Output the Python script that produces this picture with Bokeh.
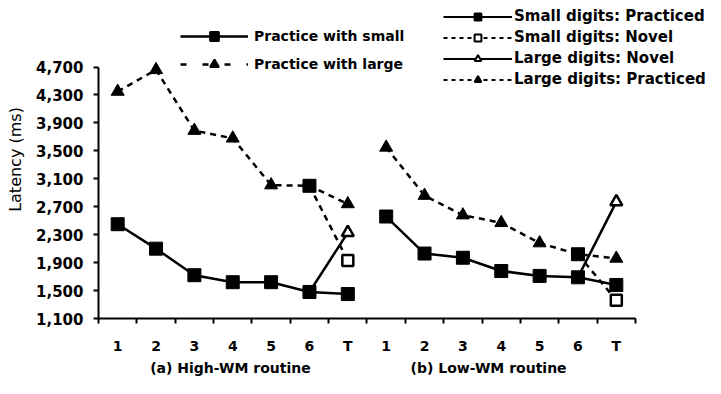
import math
from bokeh.plotting import figure
from bokeh.models import (Range1d, FixedTicker, LinearAxis, NumeralTickFormatter,
                          Legend, LegendItem, ColumnDataSource)
from bokeh.embed import file_html
from bokeh.resources import INLINE

# ---------------- data ----------------
sessions = ["1", "2", "3", "4", "5", "6", "T"]
panel_titles = ["(a) High-WM routine", "(b) Low-WM routine"]
y_ticks = [1100, 1500, 1900, 2300, 2700, 3100, 3500, 3900, 4300, 4700]

high_small_practiced = [2450, 2100, 1720, 1620, 1620, 1480, 1450]
high_large_practiced = [4350, 4660, 3790, 3680, 3010, 3000, 2740]
high_small_novel = 1930
high_large_novel = 2330

low_small_practiced = [2560, 2030, 1970, 1780, 1710, 1690, 1580]
low_large_practiced = [3550, 2860, 2580, 2470, 2180, 2020, 1960]
low_small_novel = 1360
low_large_novel = 2770

legend_a = ["Practice with small", "Practice with large"]
legend_b = ["Small digits: Practiced", "Small digits: Novel",
            "Large digits: Novel", "Large digits: Practiced"]

FONT = "DejaVu Sans"
n = len(sessions)
x_lo, x_hi = 0.5, 2 * n + 0.5

p = figure(width=705, height=378, x_range=Range1d(x_lo, 16.325), y_range=Range1d(1100, 5653),
           output_backend="svg", toolbar_location=None, x_axis_type=None, y_axis_type=None,
           min_border_left=98, min_border_right=0, min_border_top=0, min_border_bottom=58)
p.outline_line_color = None
p.background_fill_color = "white"
p.border_fill_color = "white"

# y axis
yaxis = LinearAxis(ticker=FixedTicker(ticks=y_ticks, minor_ticks=[]),
                   formatter=NumeralTickFormatter(format="0,0"),
                   bounds=(y_ticks[0], y_ticks[-1]), axis_label="Latency (ms)")
yaxis.axis_line_width = 2
yaxis.major_tick_out = 5
yaxis.major_tick_in = 0
yaxis.major_tick_line_width = 2
yaxis.minor_tick_line_color = None
yaxis.major_label_standoff = 10
yaxis.major_label_text_font = FONT
yaxis.major_label_text_font_style = "bold"
yaxis.major_label_text_font_size = "15px"
yaxis.major_label_text_color = "black"
yaxis.axis_label_text_font = FONT
yaxis.axis_label_text_font_style = "normal"
yaxis.axis_label_text_font_size = "16px"
yaxis.axis_label_text_color = "black"
yaxis.axis_label_standoff = 8
p.add_layout(yaxis, "left")

# x axis (session labels)
centers = list(range(1, 2 * n + 1))
overrides = {c: sessions[(c - 1) % n] for c in centers}
xaxis = LinearAxis(ticker=FixedTicker(ticks=centers, minor_ticks=[c - 0.5 for c in centers] + [x_hi]),
                   major_label_overrides=overrides, bounds=(x_lo, x_hi))
xaxis.axis_line_width = 2
xaxis.major_tick_line_color = None
xaxis.major_tick_out = 0
xaxis.major_tick_in = 0
xaxis.minor_tick_out = 5
xaxis.minor_tick_in = 0
xaxis.minor_tick_line_width = 2
xaxis.major_label_standoff = 14
xaxis.major_label_text_font = FONT
xaxis.major_label_text_font_style = "bold"
xaxis.major_label_text_font_size = "14px"
xaxis.major_label_text_color = "black"
p.add_layout(xaxis, "below")

# group title axis
gpos = [3.94, 10.67]
gaxis = LinearAxis(ticker=FixedTicker(ticks=gpos, minor_ticks=[]),
                   major_label_overrides={gpos[0]: panel_titles[0], gpos[1]: panel_titles[1]})
gaxis.axis_line_color = None
gaxis.major_tick_line_color = None
gaxis.minor_tick_line_color = None
gaxis.major_tick_out = 0
gaxis.major_tick_in = 0
gaxis.major_label_standoff = 3
gaxis.major_label_text_font = FONT
gaxis.major_label_text_font_style = "bold"
gaxis.major_label_text_font_size = "14px"
gaxis.major_label_text_color = "black"
p.add_layout(gaxis, "below")

DASH = "6 5"
LW = 2.5


def panel(offset, small_p, large_p, small_n, large_n):
    xs = [offset + i + 1 for i in range(n)]
    p.line(xs, large_p, line_color="black", line_width=LW, line_dash=DASH)
    p.line([xs[5], xs[6]], [large_p[5], small_n], line_color="black", line_width=LW, line_dash=DASH)
    p.line(xs, small_p, line_color="black", line_width=LW)
    p.line([xs[5], xs[6]], [small_p[5], large_n], line_color="black", line_width=LW)
    mk = ["triangle"] * n
    mk[5] = "square"
    src = ColumnDataSource(dict(x=xs, y=large_p, m=mk))
    p.scatter("x", "y", marker="m", source=src, size=13, color="black")
    p.scatter(xs, small_p, marker="square", size=13, color="black")
    p.scatter([xs[6]], [large_n], marker="triangle", size=12, fill_color="white",
              line_color="black", line_width=2.5)
    p.scatter([xs[6]], [small_n], marker="square", size=11, fill_color="white",
              line_color="black", line_width=2.5)


panel(0, high_small_practiced, high_large_practiced, high_small_novel, high_large_novel)
panel(n, low_small_practiced, low_large_practiced, low_small_novel, low_large_novel)

nan = float("nan")


def icon(dash, marker, filled, lw, msize):
    ln = p.line([nan, nan], [nan, nan], line_color="black", line_width=lw,
                line_dash=dash if dash else "solid")
    sc = p.scatter([nan], [nan], marker=marker, size=msize,
                   fill_color="black" if filled else "white", line_color="black", line_width=2)
    return [ln, sc]


leg1 = Legend(items=[
    LegendItem(label=legend_a[0], renderers=icon(None, "square", True, 2.5, 10)),
    LegendItem(label=legend_a[1], renderers=icon("6 16", "triangle", True, 2.5, 10)),
], location=(82, 243), glyph_width=68, glyph_height=22, label_height=22, spacing=6,
    label_standoff=6, padding=0, margin=0, border_line_color=None, background_fill_alpha=0,
    label_text_font=FONT, label_text_font_style="bold", label_text_font_size="14px",
    label_text_color="black")
p.add_layout(leg1, "center")

leg2 = Legend(items=[
    LegendItem(label=legend_b[0], renderers=icon(None, "square", True, 2, 8)),
    LegendItem(label=legend_b[1], renderers=icon("4 4", "square", False, 2, 8)),
    LegendItem(label=legend_b[2], renderers=icon(None, "triangle", False, 2, 8)),
    LegendItem(label=legend_b[3], renderers=icon("4 4", "triangle", True, 2, 8)),
], location=(345, 230), glyph_width=69, glyph_height=17, label_height=17, spacing=3,
    label_standoff=2, padding=0, margin=0, border_line_color=None, background_fill_alpha=0,
    label_text_font=FONT, label_text_font_style="bold", label_text_font_size="15px",
    label_text_color="black")
p.add_layout(leg2, "center")

open("out.html", "w").write(file_html(p, INLINE))
